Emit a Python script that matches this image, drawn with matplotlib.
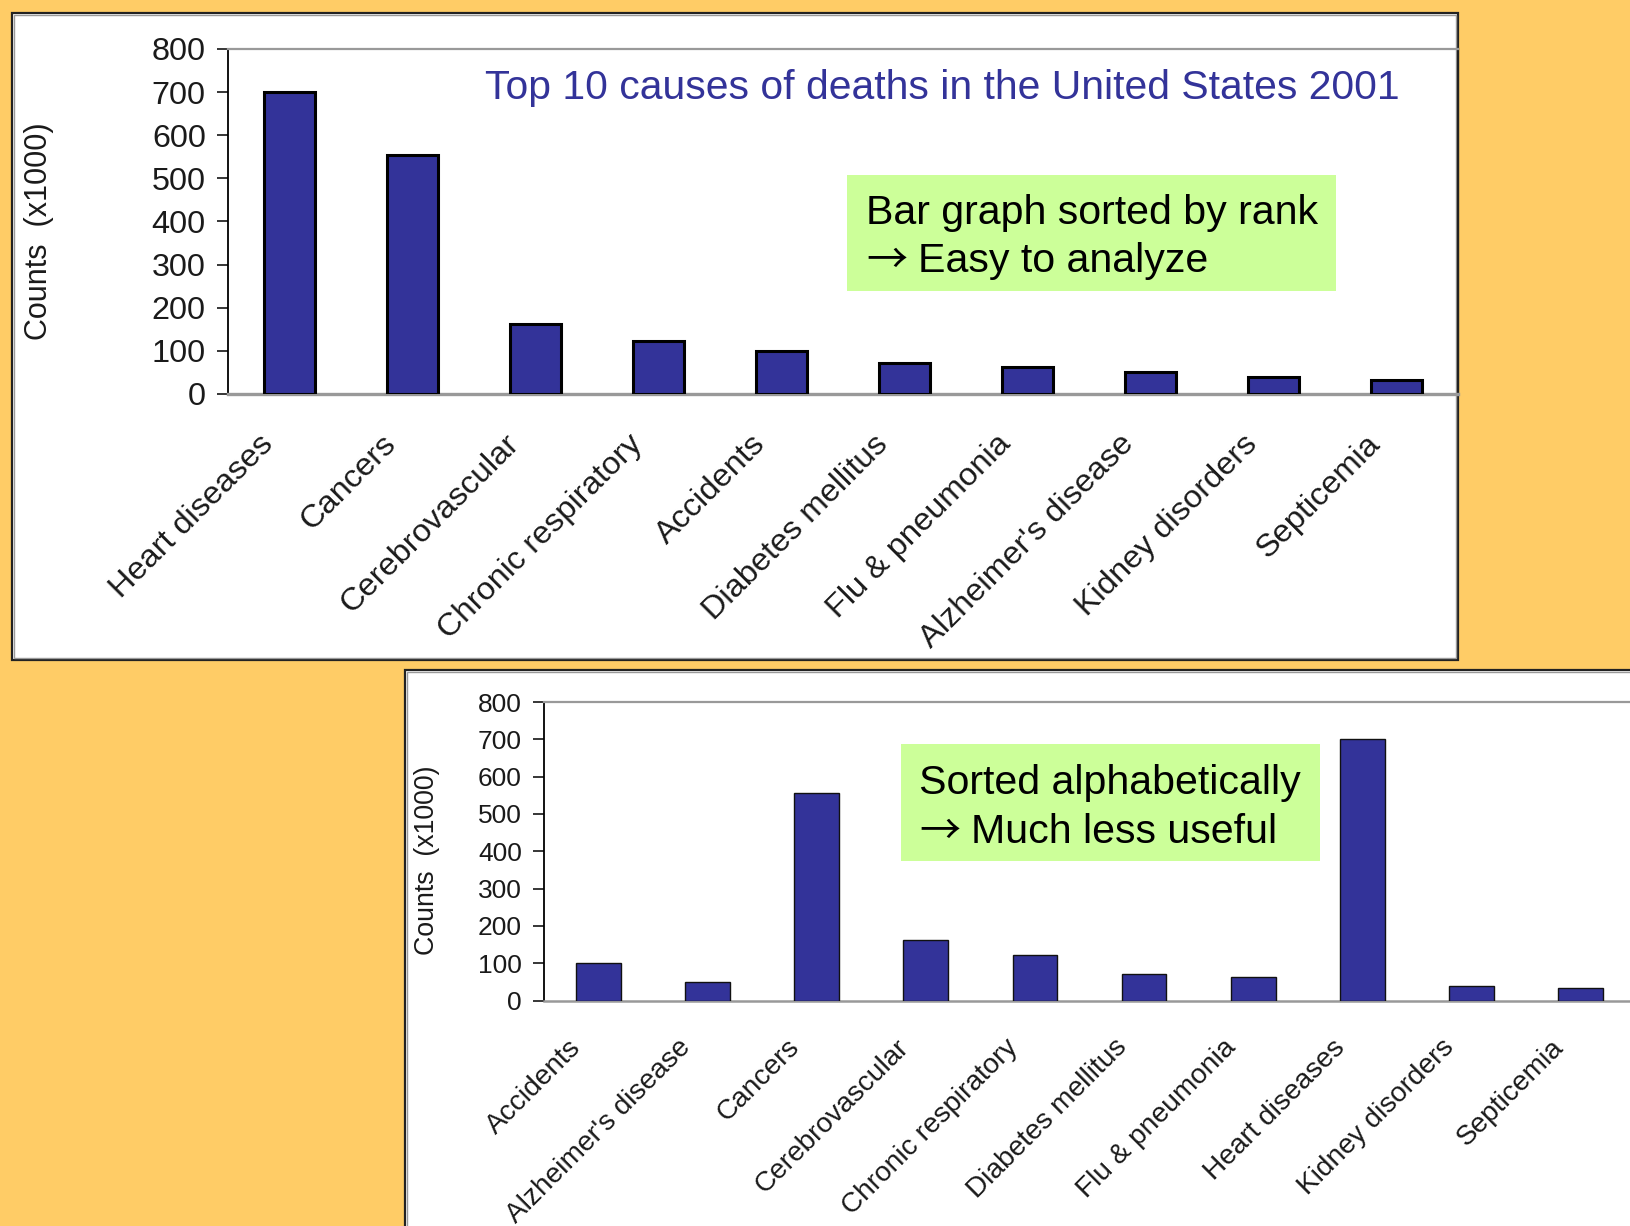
import matplotlib
matplotlib.use("Agg")
import matplotlib.pyplot as plt
from matplotlib.patches import Rectangle
from matplotlib.transforms import ScaledTranslation

# ---- data (deaths, thousands) ----
causes = ["Heart diseases", "Cancers", "Cerebrovascular", "Chronic respiratory",
          "Accidents", "Diabetes mellitus", "Flu & pneumonia",
          "Alzheimer's disease", "Kidney disorders", "Septicemia"]
counts = [700, 555, 163, 123, 100, 71, 62, 50, 39, 33]
y_ticks = [0, 100, 200, 300, 400, 500, 600, 700, 800]

title_text = "Top 10 causes of deaths in the United States 2001"
note_rank = ["Bar graph sorted by rank", "\u2192", "Easy to analyze"]
note_alpha = ["Sorted alphabetically", "\u2192", "Much less useful"]
y_label = "Counts  (x1000)"

# alphabetical ordering of the same data
alpha_pairs = sorted(zip(causes, counts), key=lambda p: p[0])
alpha_causes = [p[0] for p in alpha_pairs]
alpha_counts = [p[1] for p in alpha_pairs]

# ---- styling ----
FONT = ["Liberation Sans", "DejaVu Sans"]
ARROW_FONT = ["Noto Sans CJK SC", "DejaVu Sans"]
plt.rcParams["font.family"] = FONT
ORANGE = "#FFCC66"
BAR = "#333399"
GREEN = "#CCFF99"
TXT = "#1a1a1a"

W, H = 1630, 1226
DPI = 100
fig = plt.figure(figsize=(W / DPI, H / DPI), dpi=DPI, facecolor=ORANGE)


def box(x0, y0, x1, y1):
    """Pixel box (top-left origin) -> figure-fraction rect."""
    return [x0 / W, 1 - y1 / H, (x1 - x0) / W, (y1 - y0) / H]


def panel(x0, y0, x1, y1):
    r = box(x0, y0, x1, y1)
    fig.patches.append(Rectangle((r[0], r[1]), r[2], r[3], transform=fig.transFigure,
                                 facecolor="white", edgecolor="#222222",
                                 linewidth=1.6, zorder=-2))
    r2 = box(x0 + 2, y0 + 2, x1 - 2, y1 - 2)
    fig.patches.append(Rectangle((r2[0], r2[1]), r2[2], r2[3], transform=fig.transFigure,
                                 facecolor="none", edgecolor="#9a9a9a",
                                 linewidth=1.0, zorder=-1))


def note(x0, y0, x1, y1, lines, tx, ty1, ty2, ax_x, tx2, size):
    r = box(x0, y0, x1, y1)
    fig.patches.append(Rectangle((r[0], r[1]), r[2], r[3], transform=fig.transFigure,
                                 facecolor=GREEN, edgecolor="none", zorder=5))
    fig.text(tx / W, 1 - ty1 / H, lines[0], fontsize=size, color="black",
             ha="left", va="center", zorder=6)
    fig.text(ax_x / W, 1 - ty2 / H, lines[1], fontsize=size * 1.0, color="black",
             family=ARROW_FONT, ha="left", va="center", zorder=6)
    fig.text(tx2 / W, 1 - ty2 / H, lines[2], fontsize=size, color="black",
             ha="left", va="center", zorder=6)


def style_axes(ax, ticksize, xsize, dx_px, dy_pt, edge_lw, right_color):
    ax.set_facecolor("none")
    ax.set_xlim(-0.5, 9.5)
    ax.set_ylim(0, 800)
    ax.set_yticks(y_ticks)
    ax.tick_params(axis="y", direction="out", length=8, width=1.1, color="black",
                   labelsize=ticksize, labelcolor=TXT, pad=8)
    ax.tick_params(axis="x", length=0, labelsize=xsize, labelcolor=TXT, pad=dy_pt)
    ax.spines["left"].set_color("black")
    ax.spines["left"].set_linewidth(1.3)
    ax.spines["bottom"].set_color("#999999")
    ax.spines["bottom"].set_linewidth(edge_lw)
    ax.spines["top"].set_color("#999999")
    ax.spines["top"].set_linewidth(1.6)
    if right_color is None:
        ax.spines["right"].set_visible(False)
    else:
        ax.spines["right"].set_color(right_color)
        ax.spines["right"].set_linewidth(1.6)
    shift = ScaledTranslation(dx_px / DPI, 0, fig.dpi_scale_trans)
    for lab in ax.get_xticklabels():
        lab.set_rotation(45)
        lab.set_ha("right")
        lab.set_va("center")
        lab.set_rotation_mode("anchor")
        lab.set_transform(lab.get_transform() + shift)


# ---- top panel: ranked ----
panel(12, 13, 1458, 660)
ax1 = fig.add_axes(box(228, 49, 1458, 394))
x1 = list(range(len(causes)))
ax1.bar(x1, counts, width=0.42, color=BAR, edgecolor="black", linewidth=2.2, zorder=3)
ax1.set_xticks(x1)
ax1.set_xticklabels(causes)
style_axes(ax1, 23.3, 23.4, -21, 33, 2.4, "#222222")
fig.text(39.5 / W, 1 - 231 / H, y_label, rotation=90, fontsize=22, color=TXT,
         ha="center", va="center")
fig.text(485 / W, 1 - 88 / H, title_text, fontsize=29.4, color=BAR,
         ha="left", va="center")
note(847, 175, 1336, 291, note_rank, 866, 213, 261, 866, 918, 29.6)

# ---- bottom panel: alphabetical ----
panel(405, 670, 1660, 1260)
ax2 = fig.add_axes(box(544, 702, 1635, 1000.5))
x2 = list(range(len(alpha_causes)))
ax2.bar(x2, alpha_counts, width=0.41, color=BAR, edgecolor="#111111", linewidth=1.0, zorder=3)
ax2.set_xticks(x2)
ax2.set_xticklabels(alpha_causes)
style_axes(ax2, 19, 20.2, -21, 31, 1.8, None)
fig.text(427 / W, 1 - 860 / H, y_label, rotation=90, fontsize=19.3, color=TXT,
         ha="center", va="center")
note(901, 744, 1320, 861, note_alpha, 919, 783, 832, 919, 971, 29.6)

fig.savefig("out.png", dpi=DPI, facecolor=ORANGE)
